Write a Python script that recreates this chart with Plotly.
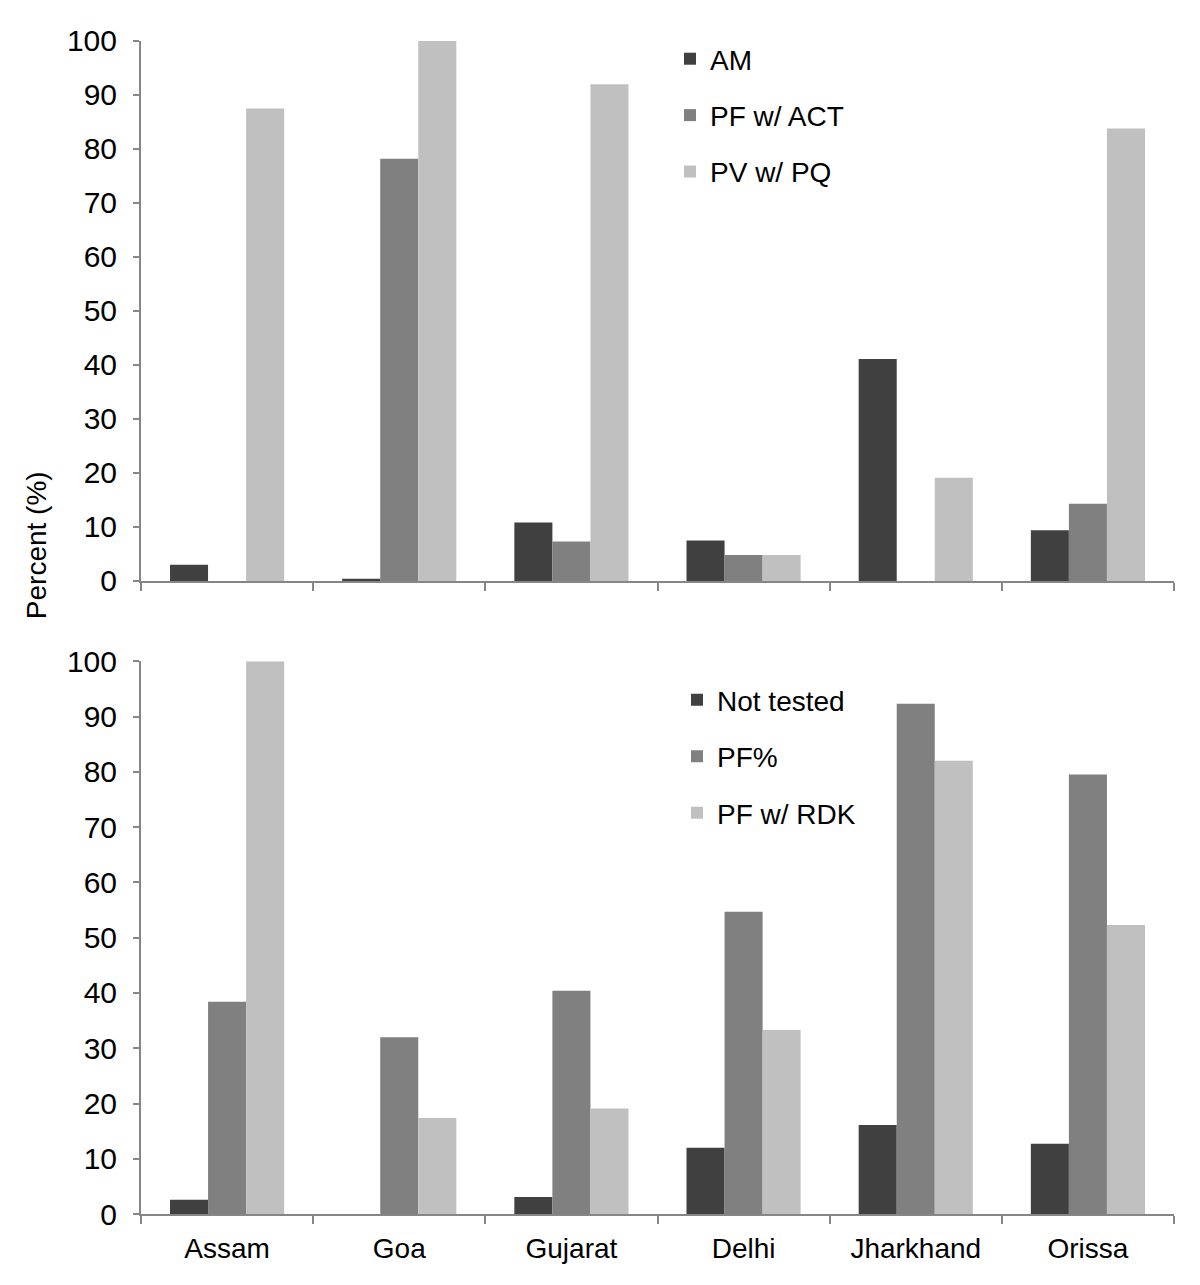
import plotly.graph_objects as go

categories = ["Assam", "Goa", "Gujarat", "Delhi", "Jharkhand", "Orissa"]

# Top panel
am = [3.0, 0.4, 10.8, 7.5, 41.1, 9.4]
pf_act = [0.0, 78.2, 7.3, 4.8, 0.0, 14.3]
pv_pq = [87.5, 100.0, 92.0, 4.8, 19.1, 83.8]

# Bottom panel
not_tested = [2.6, 0.0, 3.1, 12.0, 16.1, 12.7]
pf_pct = [38.4, 32.0, 40.4, 54.7, 92.3, 79.5]
pf_rdk = [100.0, 17.4, 19.1, 33.3, 82.0, 52.3]

y_ticks = list(range(0, 101, 10))

OFF = 8  # default page body margin
W, H = 1200 - 2 * OFF, 1285 - 2 * OFF
ML, MT, MB = 141 - OFF, 20, 52
MR = W - (1174 - OFF)
PW = W - ML - MR
PH = H - MT - MB


def py(y):
    # target pixel y on the page -> paper coord
    return (H - MB - (y - OFF)) / PH


def px(x):
    return ((x - OFF) - ML) / PW


DARK, MID, LIGHT = "#404040", "#808080", "#c0c0c0"
AXIS = "#868686"
FONT = "Liberation Sans, Arial, sans-serif"

fig = go.Figure()

top_series = [("AM", am, DARK), ("PF w/ ACT", pf_act, MID), ("PV w/ PQ", pv_pq, LIGHT)]
bot_series = [("Not tested", not_tested, DARK), ("PF%", pf_pct, MID), ("PF w/ RDK", pf_rdk, LIGHT)]

for i, (name, vals, col) in enumerate(top_series):
    fig.add_trace(go.Bar(x=categories, y=vals, name=name, marker=dict(color=col, line=dict(width=0)),
                         xaxis="x", yaxis="y", legend="legend", legendgroup="t%d" % i))
for i, (name, vals, col) in enumerate(bot_series):
    fig.add_trace(go.Bar(x=categories, y=vals, name=name, marker=dict(color=col, line=dict(width=0)),
                         xaxis="x2", yaxis="y2", legend="legend2", legendgroup="b%d" % i))

xaxis_common = dict(
    type="category", showline=True, linecolor=AXIS, linewidth=2,
    ticks="outside", ticklen=8, tickwidth=2, tickcolor=AXIS, tickson="boundaries",
    showgrid=False, zeroline=False, domain=[0, 1],
    tickfont=dict(family=FONT, size=28, color="black"),
)
yaxis_common = dict(
    range=[0, 100], tickvals=y_ticks, showline=True, linecolor=AXIS, linewidth=2,
    ticks="outside", ticklen=6, tickwidth=2, tickcolor=AXIS,
    showgrid=False, zeroline=False, ticklabelstandoff=10,
    tickfont=dict(family=FONT, size=30, color="black"),
)

legend_common = dict(
    font=dict(family=FONT, size=28, color="black"),
    bgcolor="rgba(0,0,0,0)", borderwidth=0,
    xanchor="left", yanchor="top", traceorder="grouped", tracegroupgap=17,
    itemclick=False,
)

fig.update_layout(
    width=W, height=H,
    margin=dict(l=ML, r=MR, t=MT, b=MB),
    paper_bgcolor="white", plot_bgcolor="white",
    barmode="group", bargap=0.337, bargroupgap=0,
    xaxis=dict(xaxis_common, anchor="y", showticklabels=False),
    yaxis=dict(yaxis_common, anchor="x", domain=[py(576), py(32)]),
    xaxis2=dict(xaxis_common, anchor="y2", showticklabels=True, ticklabelstandoff=8),
    yaxis2=dict(yaxis_common, anchor="x2", domain=[py(1214), py(657)]),
    legend=dict(legend_common, x=px(670), y=py(25)),
    legend2=dict(legend_common, x=px(677), y=py(671)),
    showlegend=True,
    annotations=[dict(
        text="Percent (%)", xref="paper", yref="paper", x=px(36), y=py(540),
        xanchor="center", yanchor="middle", textangle=-90, showarrow=False,
        font=dict(family=FONT, size=28, color="black"),
    )],
)

fig.write_html("out.html")
